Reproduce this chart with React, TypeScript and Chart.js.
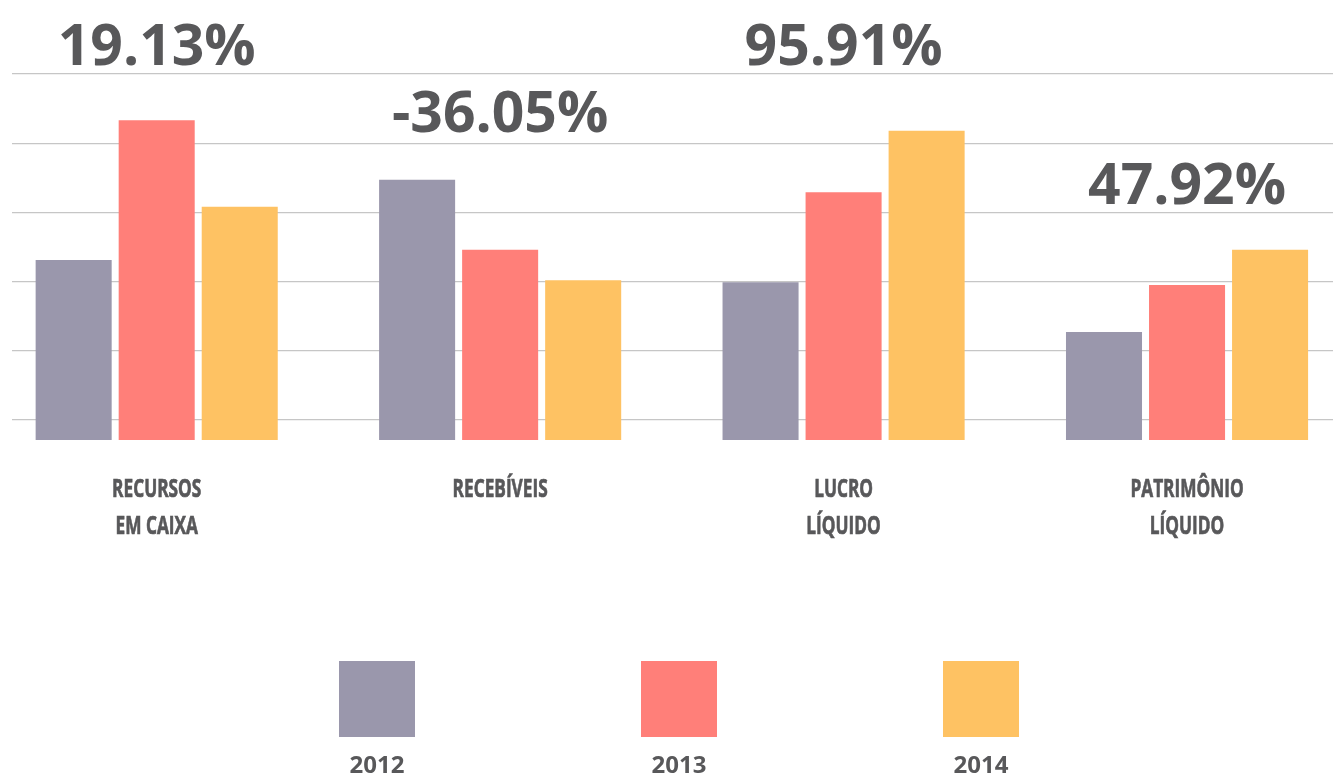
import React, { useEffect, useRef } from "react";
import { Chart, registerables } from "chart.js";

Chart.register(...registerables);

// ---- data ----
const categories: string[][] = [
  ["RECURSOS", "EM CAIXA"],
  ["RECEBÍVEIS"],
  ["LUCRO", "LÍQUIDO"],
  ["PATRIMÔNIO", "LÍQUIDO"],
];
const years = ["2012", "2013", "2014"];
const values2012 = [26.0, 37.6, 22.8, 15.6];
const values2013 = [46.2, 27.5, 35.8, 22.4];
const values2014 = [33.7, 23.1, 44.7, 27.5];
const changeLabels = ["19.13%", "-36.05%", "95.91%", "47.92%"];
const gridTicks = [2.9, 12.9, 22.9, 32.9, 42.9, 52.9];

// ---- style ----
const COLORS = ["#9A97AC", "#FF7F79", "#FEC263"];
const TEXT = "#58585A";
const W = 1333;
const H = 778;
const LABEL_LEVELS = [54.2, 44.55, 54.2, 34.1]; // baseline of % labels in y units
const CAT_OFFSET = 56.5;
const CAT_LINE = 37;
const CAT_SX = 0.69;
const LEGEND_CENTER = 679;
const LEGEND_GAP = 302;
const LEGEND_BOX = 76;
const LEGEND_TOP = 661;
const LEGEND_TEXT_Y = 773;

const overlay = {
  id: "overlay",
  afterDraw(chart: any) {
    const { ctx } = chart;
    const xs = chart.scales.x;
    const ys = chart.scales.y;
    ctx.save();
    ctx.fillStyle = TEXT;
    ctx.strokeStyle = TEXT;
    ctx.textAlign = "center";
    ctx.textBaseline = "alphabetic";

    ctx.font = "bold 57px 'Open Sans'";
    changeLabels.forEach((t, i) => {
      ctx.fillText(t, xs.getPixelForValue(i), ys.getPixelForValue(LABEL_LEVELS[i]));
    });

    ctx.font = "bold 25px 'Open Sans'";
    ctx.lineWidth = 0.7;
    const base = chart.chartArea.bottom + CAT_OFFSET;
    categories.forEach((lines, i) => {
      const cx = xs.getPixelForValue(i);
      lines.forEach((ln, j) => {
        ctx.save();
        ctx.translate(cx, base + j * CAT_LINE);
        ctx.scale(CAT_SX, 1);
        ctx.fillText(ln, 0, 0);
        ctx.strokeText(ln, 0, 0);
        ctx.restore();
      });
    });

    ctx.font = "bold 24px 'Open Sans'";
    chart.data.datasets.forEach((ds: any, i: number) => {
      const cx = LEGEND_CENTER + (i - 1) * LEGEND_GAP;
      ctx.fillStyle = ds.backgroundColor;
      ctx.fillRect(cx - LEGEND_BOX / 2, LEGEND_TOP, LEGEND_BOX, LEGEND_BOX);
      ctx.fillStyle = TEXT;
      ctx.fillText(ds.label, cx, LEGEND_TEXT_Y);
    });
    ctx.restore();
  },
};

export default function App() {
  const ref = useRef<HTMLCanvasElement>(null);

  useEffect(() => {
    if (!ref.current) return;
    const series = [values2012, values2013, values2014];
    const chart = new Chart(ref.current, {
      type: "bar",
      data: {
        datasets: years.map((y, k) => ({
          label: y,
          data: series[k].map((v, i) => ({ x: i, y: v })),
          backgroundColor: COLORS[k],
          borderWidth: 0,
          categoryPercentage: 0.7253,
          barPercentage: 0.9157,
        })),
      },
      options: {
        animation: false,
        responsive: false,
        devicePixelRatio: 1,
        layout: { padding: { left: 12, right: 0, top: 74, bottom: H - 440 } },
        plugins: { legend: { display: false }, tooltip: { enabled: false } },
        scales: {
          x: {
            type: "linear",
            offset: false,
            min: -0.4213,
            max: 3.425,
            display: false,
            afterBuildTicks: (s: any) => {
              s.ticks = categories.map((_, i) => ({ value: i }));
            },
          },
          y: {
            min: 0,
            max: 52.9,
            afterBuildTicks: (s: any) => {
              s.ticks = gridTicks.map((v) => ({ value: v }));
            },
            ticks: { display: false },
            grid: { color: "#C6C6C6", lineWidth: 1.3, drawTicks: false },
            border: { display: false },
          },
        },
      },
      plugins: [overlay],
    } as any);
    return () => chart.destroy();
  }, []);

  return (
    <div style={{ position: "absolute", left: 0, top: 0, width: W, height: H, background: "#fff" }}>
      <canvas ref={ref} width={W} height={H} style={{ display: "block" }} />
    </div>
  );
}
